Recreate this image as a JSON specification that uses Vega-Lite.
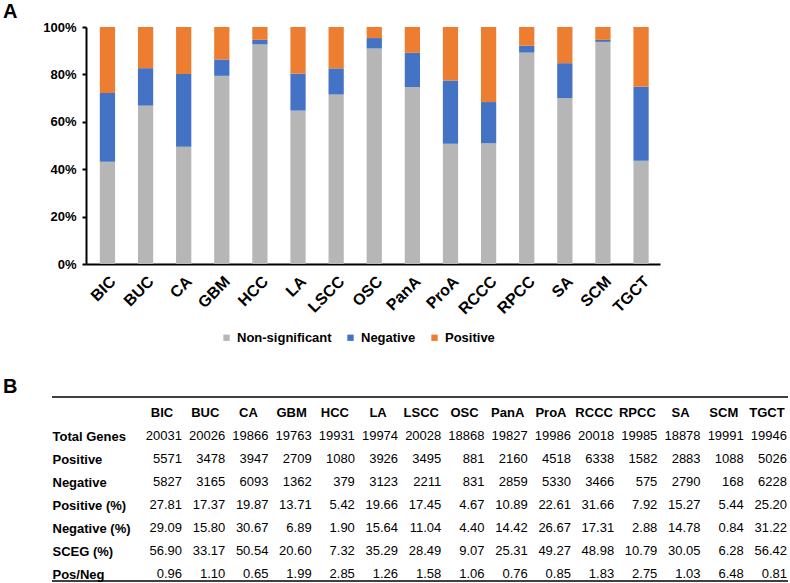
{
  "$schema": "https://vega.github.io/schema/vega-lite/v6.json",
  "padding": {"left": 3, "top": 2, "right": 0, "bottom": 0},
  "bounds": "flush",
  "spacing": 133,
  "background": "white",
  "config": {
    "view": {"stroke": null},
    "font": "Liberation Sans",
    "text": {"font": "Liberation Sans", "fontSize": 13, "color": "black"},
    "axis": {"labelFont": "Liberation Sans", "labelColor": "black", "grid": false, "title": null}
  },
  "datasets": {
    "bars": [
      {"type": "BIC", "cat": "Non-significant", "pct": 43.10}, {"type": "BIC", "cat": "Negative", "pct": 29.09}, {"type": "BIC", "cat": "Positive", "pct": 27.81},
      {"type": "BUC", "cat": "Non-significant", "pct": 66.83}, {"type": "BUC", "cat": "Negative", "pct": 15.80}, {"type": "BUC", "cat": "Positive", "pct": 17.37},
      {"type": "CA", "cat": "Non-significant", "pct": 49.46}, {"type": "CA", "cat": "Negative", "pct": 30.67}, {"type": "CA", "cat": "Positive", "pct": 19.87},
      {"type": "GBM", "cat": "Non-significant", "pct": 79.40}, {"type": "GBM", "cat": "Negative", "pct": 6.89}, {"type": "GBM", "cat": "Positive", "pct": 13.71},
      {"type": "HCC", "cat": "Non-significant", "pct": 92.68}, {"type": "HCC", "cat": "Negative", "pct": 1.90}, {"type": "HCC", "cat": "Positive", "pct": 5.42},
      {"type": "LA", "cat": "Non-significant", "pct": 64.71}, {"type": "LA", "cat": "Negative", "pct": 15.64}, {"type": "LA", "cat": "Positive", "pct": 19.65},
      {"type": "LSCC", "cat": "Non-significant", "pct": 71.51}, {"type": "LSCC", "cat": "Negative", "pct": 11.04}, {"type": "LSCC", "cat": "Positive", "pct": 17.45},
      {"type": "OSC", "cat": "Non-significant", "pct": 90.93}, {"type": "OSC", "cat": "Negative", "pct": 4.40}, {"type": "OSC", "cat": "Positive", "pct": 4.67},
      {"type": "PanA", "cat": "Non-significant", "pct": 74.69}, {"type": "PanA", "cat": "Negative", "pct": 14.42}, {"type": "PanA", "cat": "Positive", "pct": 10.89},
      {"type": "ProA", "cat": "Non-significant", "pct": 50.73}, {"type": "ProA", "cat": "Negative", "pct": 26.67}, {"type": "ProA", "cat": "Positive", "pct": 22.60},
      {"type": "RCCC", "cat": "Non-significant", "pct": 51.02}, {"type": "RCCC", "cat": "Negative", "pct": 17.31}, {"type": "RCCC", "cat": "Positive", "pct": 31.66},
      {"type": "RPCC", "cat": "Non-significant", "pct": 89.21}, {"type": "RPCC", "cat": "Negative", "pct": 2.88}, {"type": "RPCC", "cat": "Positive", "pct": 7.91},
      {"type": "SA", "cat": "Non-significant", "pct": 69.95}, {"type": "SA", "cat": "Negative", "pct": 14.78}, {"type": "SA", "cat": "Positive", "pct": 15.27},
      {"type": "SCM", "cat": "Non-significant", "pct": 93.72}, {"type": "SCM", "cat": "Negative", "pct": 0.84}, {"type": "SCM", "cat": "Positive", "pct": 5.44},
      {"type": "TGCT", "cat": "Non-significant", "pct": 43.58}, {"type": "TGCT", "cat": "Negative", "pct": 31.22}, {"type": "TGCT", "cat": "Positive", "pct": 25.20}
    ],
    "table": [
      {"type": "BIC", "Total Genes": 20031, "Positive": 5571, "Negative": 5827, "Positive (%)": 27.81, "Negative (%)": 29.09, "SCEG (%)": 56.90, "Pos/Neg": 0.96},
      {"type": "BUC", "Total Genes": 20026, "Positive": 3478, "Negative": 3165, "Positive (%)": 17.37, "Negative (%)": 15.80, "SCEG (%)": 33.17, "Pos/Neg": 1.10},
      {"type": "CA", "Total Genes": 19866, "Positive": 3947, "Negative": 6093, "Positive (%)": 19.87, "Negative (%)": 30.67, "SCEG (%)": 50.54, "Pos/Neg": 0.65},
      {"type": "GBM", "Total Genes": 19763, "Positive": 2709, "Negative": 1362, "Positive (%)": 13.71, "Negative (%)": 6.89, "SCEG (%)": 20.60, "Pos/Neg": 1.99},
      {"type": "HCC", "Total Genes": 19931, "Positive": 1080, "Negative": 379, "Positive (%)": 5.42, "Negative (%)": 1.90, "SCEG (%)": 7.32, "Pos/Neg": 2.85},
      {"type": "LA", "Total Genes": 19974, "Positive": 3926, "Negative": 3123, "Positive (%)": 19.66, "Negative (%)": 15.64, "SCEG (%)": 35.29, "Pos/Neg": 1.26},
      {"type": "LSCC", "Total Genes": 20028, "Positive": 3495, "Negative": 2211, "Positive (%)": 17.45, "Negative (%)": 11.04, "SCEG (%)": 28.49, "Pos/Neg": 1.58},
      {"type": "OSC", "Total Genes": 18868, "Positive": 881, "Negative": 831, "Positive (%)": 4.67, "Negative (%)": 4.40, "SCEG (%)": 9.07, "Pos/Neg": 1.06},
      {"type": "PanA", "Total Genes": 19827, "Positive": 2160, "Negative": 2859, "Positive (%)": 10.89, "Negative (%)": 14.42, "SCEG (%)": 25.31, "Pos/Neg": 0.76},
      {"type": "ProA", "Total Genes": 19986, "Positive": 4518, "Negative": 5330, "Positive (%)": 22.61, "Negative (%)": 26.67, "SCEG (%)": 49.27, "Pos/Neg": 0.85},
      {"type": "RCCC", "Total Genes": 20018, "Positive": 6338, "Negative": 3466, "Positive (%)": 31.66, "Negative (%)": 17.31, "SCEG (%)": 48.98, "Pos/Neg": 1.83},
      {"type": "RPCC", "Total Genes": 19985, "Positive": 1582, "Negative": 575, "Positive (%)": 7.92, "Negative (%)": 2.88, "SCEG (%)": 10.79, "Pos/Neg": 2.75},
      {"type": "SA", "Total Genes": 18878, "Positive": 2883, "Negative": 2790, "Positive (%)": 15.27, "Negative (%)": 14.78, "SCEG (%)": 30.05, "Pos/Neg": 1.03},
      {"type": "SCM", "Total Genes": 19991, "Positive": 1088, "Negative": 168, "Positive (%)": 5.44, "Negative (%)": 0.84, "SCEG (%)": 6.28, "Pos/Neg": 6.48},
      {"type": "TGCT", "Total Genes": 19946, "Positive": 5026, "Negative": 6228, "Positive (%)": 25.20, "Negative (%)": 31.22, "SCEG (%)": 56.42, "Pos/Neg": 0.81}
    ]
  },
  "vconcat": [
    {
      "width": 608,
      "height": 237,
      "title": {"text": "A", "anchor": "start", "frame": "group", "dx": -49, "dy": 18, "fontSize": 20, "fontWeight": "bold", "font": "Liberation Sans", "color": "black", "baseline": "alphabetic", "offset": 1},
      "data": {"name": "bars"},
      "transform": [{"calculate": "indexof(['Non-significant','Negative','Positive'], datum.cat)", "as": "o"}],
      "mark": {"type": "bar"},
      "encoding": {
        "x": {
          "field": "type", "type": "nominal", "sort": null,
          "scale": {"range": [34, 608], "paddingInner": 0.6, "paddingOuter": 0.33, "align": 0.55},
          "axis": {"domainColor": "black", "domainWidth": 2, "ticks": false, "labelAngle": -45, "labelFontSize": 16, "labelFontWeight": "bold", "labelPadding": 9}
        },
        "y": {
          "field": "pct", "type": "quantitative", "stack": "zero",
          "scale": {"domain": [0, 100], "clamp": true},
          "axis": {"offset": -34, "values": [0, 20, 40, 60, 80, 100], "labelExpr": "datum.value + '%'", "domainColor": "black", "domainWidth": 2, "ticks": true, "tickSize": 4, "tickWidth": 2, "tickColor": "black", "labelFontSize": 13, "labelFontWeight": "bold", "labelPadding": 6}
        },
        "color": {
          "field": "cat", "type": "nominal",
          "scale": {"domain": ["Non-significant", "Negative", "Positive"], "range": ["#B6B6B6", "#4472C4", "#ED7D31"]},
          "legend": {"orient": "none", "direction": "horizontal", "legendX": 168, "legendY": 304, "title": null, "symbolType": "square", "symbolSize": 40, "symbolStrokeWidth": 0, "labelFontSize": 13, "labelFontWeight": "bold", "labelFont": "Liberation Sans", "labelColor": "black", "labelOffset": 4, "columnPadding": 12, "padding": 0}
        },
        "order": {"field": "o", "type": "quantitative"}
      }
    },
    {
      "width": 736,
      "height": 184,
      "title": {"text": "B", "anchor": "start", "frame": "group", "dx": -49, "dy": 22, "fontSize": 20, "fontWeight": "bold", "font": "Liberation Sans", "color": "black", "baseline": "alphabetic", "offset": 5},
      "data": {"name": "table"},
      "resolve": {"scale": {"y": "independent"}, "axis": {"y": "independent"}},
      "layer": [
        {
          "mark": {"type": "text", "align": "center", "baseline": "middle", "fontWeight": "bold", "dx": -20},
          "encoding": {
            "x": {"field": "type", "type": "nominal", "sort": null, "scale": {"type": "point", "range": [130, 735], "padding": 0}, "axis": null},
            "y": {"datum": "hdr", "type": "nominal",
              "scale": {"type": "point", "domain": ["hdr", "Total Genes", "Positive", "Negative", "Positive (%)", "Negative (%)", "SCEG (%)", "Pos/Neg"], "padding": 0.5, "align": 0.696},
              "axis": {"orient": "left", "domain": false, "ticks": false, "tickSize": 0, "labelAlign": "left", "labelPadding": 0, "labelFontSize": 13, "labelFontWeight": "bold", "labelBaseline": "middle", "labelExpr": "datum.value == 'hdr' ? '' : datum.value"}},
            "text": {"field": "type"}
          }
        },
        {
          "transform": [{"fold": ["Total Genes", "Positive", "Negative"], "as": ["row", "value"]}],
          "mark": {"type": "text", "align": "right", "baseline": "middle"},
          "encoding": {
            "x": {"field": "type", "type": "nominal", "sort": null, "scale": {"type": "point", "range": [130, 735], "padding": 0}, "axis": null},
            "y": {"field": "row", "type": "nominal",
              "scale": {"type": "point", "domain": ["hdr", "Total Genes", "Positive", "Negative", "Positive (%)", "Negative (%)", "SCEG (%)", "Pos/Neg"], "padding": 0.5, "align": 0.696},
              "axis": null},
            "text": {"field": "value", "type": "quantitative", "format": "d"}
          }
        },
        {
          "transform": [{"fold": ["Positive (%)", "Negative (%)", "SCEG (%)", "Pos/Neg"], "as": ["row", "value"]}],
          "mark": {"type": "text", "align": "right", "baseline": "middle"},
          "encoding": {
            "x": {"field": "type", "type": "nominal", "sort": null, "scale": {"type": "point", "range": [130, 735], "padding": 0}, "axis": null},
            "y": {"field": "row", "type": "nominal",
              "scale": {"type": "point", "domain": ["hdr", "Total Genes", "Positive", "Negative", "Positive (%)", "Negative (%)", "SCEG (%)", "Pos/Neg"], "padding": 0.5, "align": 0.696},
              "axis": null},
            "text": {"field": "value", "type": "quantitative", "format": ".2f"}
          }
        },
        {
          "data": {"values": [{}]},
          "mark": {"type": "rule", "color": "black", "strokeWidth": 1.5},
          "encoding": {
            "y": {"datum": 1, "type": "quantitative", "scale": {"domain": [0, 1], "nice": false, "zero": false}, "axis": null}
          }
        },
        {
          "data": {"values": [{}]},
          "mark": {"type": "rule", "color": "black", "strokeWidth": 1.5},
          "encoding": {
            "y": {"datum": 0, "type": "quantitative", "scale": {"domain": [0, 1], "nice": false, "zero": false}, "axis": null}
          }
        }
      ]
    }
  ]
}
